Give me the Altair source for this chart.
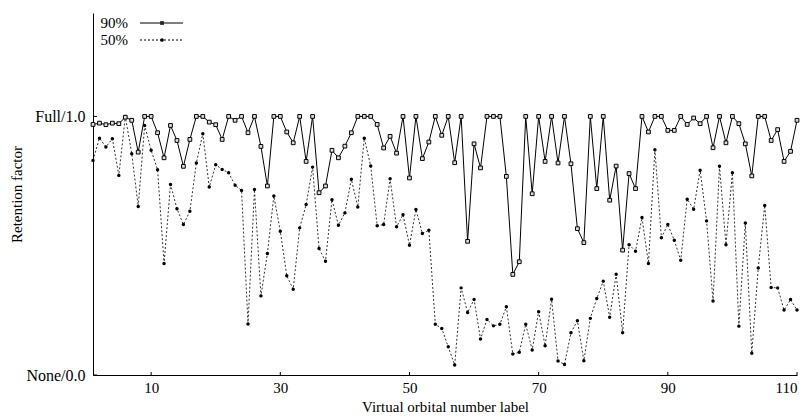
import altair as alt
import pandas as pd

orbital = list(range(1, 111))

ret90 = [
    0.969, 0.974, 0.968, 0.974, 0.972, 0.997, 0.985, 0.862, 1.0, 1.0,
    0.937, 0.840, 0.965, 0.907, 0.807, 0.911, 1.0, 1.0, 0.978, 0.968,
    0.911, 1.0, 0.985, 1.0, 0.937, 1.0, 0.884, 0.731, 1.0, 1.0,
    0.940, 0.898, 1.0, 0.826, 1.0, 0.705, 0.731, 0.869, 0.840, 0.885,
    0.937, 1.0, 1.0, 1.0, 0.969, 0.878, 0.923, 0.858, 1.0, 0.762,
    1.0, 0.837, 0.901, 1.0, 0.927, 1.0, 0.821, 1.0, 0.517, 0.894,
    0.801, 1.0, 1.0, 1.0, 0.768, 0.389, 0.438, 1.0, 0.701, 1.0,
    0.826, 1.0, 0.820, 1.0, 0.817, 0.566, 0.512, 1.0, 0.721, 1.0,
    0.676, 0.808, 0.483, 0.779, 0.721, 1.0, 0.940, 1.0, 1.0, 0.946,
    0.946, 1.0, 0.969, 0.994, 0.972, 1.0, 0.879, 1.0, 0.898, 1.0,
    0.972, 0.894, 0.770, 1.0, 1.0, 0.907, 0.949, 0.826, 0.865, 0.985,
]

ret50 = [
    0.830, 0.916, 0.882, 0.914, 0.772, 1.0, 0.856, 0.652, 0.965, 0.869,
    0.794, 0.431, 0.737, 0.643, 0.582, 0.633, 0.820, 0.933, 0.727, 0.813,
    0.795, 0.782, 0.734, 0.714, 0.197, 0.717, 0.306, 0.470, 0.692, 0.556,
    0.384, 0.332, 0.569, 0.659, 0.804, 0.489, 0.440, 0.678, 0.579, 0.627,
    0.757, 0.650, 0.916, 0.808, 0.577, 0.582, 0.759, 0.573, 0.620, 0.502,
    0.640, 0.547, 0.560, 0.196, 0.180, 0.109, 0.039, 0.337, 0.242, 0.292,
    0.139, 0.215, 0.190, 0.196, 0.264, 0.081, 0.088, 0.196, 0.097, 0.245,
    0.113, 0.293, 0.054, 0.041, 0.163, 0.210, 0.055, 0.219, 0.296, 0.363,
    0.223, 0.390, 0.163, 0.504, 0.479, 0.609, 0.431, 0.871, 0.531, 0.582,
    0.521, 0.444, 0.680, 0.641, 0.792, 0.596, 0.286, 0.807, 0.504, 0.782,
    0.189, 0.588, 0.084, 0.414, 0.656, 0.338, 0.337, 0.251, 0.292, 0.251,
]

x_ticks = [10, 30, 50, 70, 90, 110]
y_ticks = [0, 1]
y_tick_labels = {0: "None/0.0", 1: "Full/1.0"}

FONT = "Liberation Serif"
W, H = 704, 362

df = pd.DataFrame({"orbital": orbital, "r90": ret90, "r50": ret50})

x_enc = alt.X(
    "orbital:Q",
    scale=alt.Scale(domain=[1, 110], nice=False, zero=False),
    axis=alt.Axis(
        values=x_ticks, title="Virtual orbital number label", grid=False,
        ticks=False, labelPadding=5, titleY=31, titleBaseline="middle",
    ),
)
y_scale = alt.Scale(domain=[0, 1.4], nice=False)
label_expr = "datum.value == 1 ? '%s' : (datum.value == 0 ? '%s' : '')" % (
    y_tick_labels[1], y_tick_labels[0])
y_axis = alt.Axis(
    values=y_ticks, labelExpr=label_expr, title="Retention factor", grid=False,
    ticks=False, labelPadding=8, labelFontSize=16, titleX=-77, titleY=H / 2,
    titleAngle=270, titleAlign="center", titleBaseline="middle",
)

base = alt.Chart(df)

line50 = base.mark_line(color="#333333", strokeWidth=1, strokeDash=[2, 2]).encode(
    x=x_enc, y=alt.Y("r50:Q", scale=y_scale, axis=y_axis))
pts50 = base.mark_point(shape="circle", filled=True, color="#000000", size=12, opacity=1).encode(
    x="orbital:Q", y=alt.Y("r50:Q", scale=y_scale))
line90 = base.mark_line(color="#000000", strokeWidth=1).encode(
    x="orbital:Q", y=alt.Y("r90:Q", scale=y_scale))
pts90 = base.mark_point(shape="square", filled=True, fill="#dddddd", stroke="#000000",
                        strokeWidth=1, size=14, opacity=1).encode(
    x="orbital:Q", y=alt.Y("r90:Q", scale=y_scale))

# inward ticks
xt = alt.Chart(pd.DataFrame({"t": x_ticks})).mark_rule(color="black", strokeWidth=1).encode(
    x=alt.X("t:Q", scale=alt.Scale(domain=[1, 110], nice=False, zero=False)),
    y=alt.value(H), y2=alt.value(H - 3))
yt = alt.Chart(pd.DataFrame({"t": y_ticks})).mark_rule(color="black", strokeWidth=1).encode(
    y=alt.Y("t:Q", scale=y_scale), x=alt.value(0), x2=alt.value(4))

# legend
one = pd.DataFrame({"a": [0]})
leg = []
for lab, yy, dash, shape, fill in [("90%", 10, [1, 0], "square", "#222222"),
                                   ("50%", 27, [2, 2], "circle", "#000000")]:
    leg.append(alt.Chart(one).mark_text(text=lab, font=FONT, fontSize=15, align="right",
                                        baseline="middle", color="black").encode(
        x=alt.value(35), y=alt.value(yy)))
    leg.append(alt.Chart(one).mark_rule(color="black", strokeWidth=1, strokeDash=dash).encode(
        x=alt.value(47), x2=alt.value(90), y=alt.value(yy)))
    leg.append(alt.Chart(one).mark_point(shape=shape, filled=True, color=fill, size=14,
                                         opacity=1).encode(
        x=alt.value(69), y=alt.value(yy)))

chart = alt.layer(line50, pts50, line90, pts90, xt, yt, *leg).properties(
    width=W, height=H,
    autosize=alt.AutoSizeParams(type="none"),
    padding={"left": 85, "top": 5, "right": 5, "bottom": 40},
    background="white",
).configure_view(stroke=None).configure_axis(
    labelFont=FONT, titleFont=FONT, labelFontSize=15, titleFontSize=15,
    labelColor="black", titleColor="black", titleFontWeight="normal",
    domainColor="black", domainWidth=1,
)

chart.save("out.html", embed_options={"renderer": "svg", "actions": False})
